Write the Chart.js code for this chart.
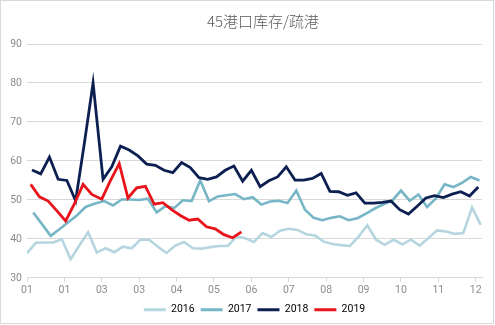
<!DOCTYPE html>
<html>
<head>
<meta charset="utf-8">
<script src="https://cdn.jsdelivr.net/npm/chart.js@4.4.1/dist/chart.umd.min.js"></script>
<style>
  html, body { margin: 0; padding: 0; background: #fff; }
  #wrap { width: 495px; height: 325px; position: relative; }
</style>
</head>
<body>
<div id="wrap"><canvas id="c" width="495" height="325"></canvas></div>
<script>
// Weekly (Friday) port inventory / outflow ratio, one series per year.
const years = ['2016', '2017', '2018', '2019'];
const firstFriday = ['2016-01-01', '2017-01-06', '2018-01-05', '2019-01-04'];
const colors = ['#b5d5df', '#76b6c6', '#0c1f50', '#e8141c'];
const titleText = '45港口库存/疏港';

const v2016 = [36.3, 39.0, 39.1, 39.1, 39.9, 34.8, 38.3, 41.7, 36.5, 37.6,
               36.6, 38.0, 37.6, 39.8, 39.8, 38.0, 36.4, 38.3, 39.2, 37.6,
               37.5, 37.9, 38.2, 38.2, 40.6, 40.2, 39.2, 41.5, 40.5, 42.1,
               42.6, 42.3, 41.2, 40.9, 39.3, 38.7, 38.4, 38.2, 40.6, 43.5,
               39.8, 38.5, 39.8, 38.6, 39.8, 38.3, 40.2, 42.2, 41.9, 41.3,
               41.5, 48.1, 43.6];
const v2017 = [46.8, 43.8, 40.8, 42.5, 44.3, 46.0, 48.2, 49.0, 49.7, 48.6,
               50.1, 50.1, 50.0, 50.3, 46.8, 48.4, 47.9, 49.9, 49.7, 55.0,
               49.7, 50.9, 51.2, 51.5, 50.2, 50.7, 48.8, 49.6, 49.8, 49.2,
               52.4, 47.5, 45.4, 44.8, 45.4, 45.8, 44.8, 45.3, 46.5, 47.8,
               48.9, 49.8, 52.4, 49.8, 51.4, 48.2, 50.4, 54.0, 53.3, 54.4,
               55.9, 55.0];
const v2018 = [57.7, 56.7, 61.0, 55.3, 55.0, 49.8, 64.5, 80.0, 55.3, 58.5,
               63.8, 62.8, 61.3, 59.2, 58.9, 57.6, 57.0, 59.6, 58.3, 55.7,
               55.3, 55.9, 57.6, 58.7, 54.8, 57.6, 53.4, 54.9, 55.9, 58.5,
               55.1, 55.1, 55.5, 56.8, 52.2, 52.1, 51.2, 51.8, 49.2, 49.2,
               49.4, 49.7, 47.5, 46.4, 48.4, 50.5, 51.1, 50.6, 51.5, 52.1,
               51.0, 53.3];
const v2019 = [54.0, 50.8, 49.7, 47.2, 44.6, 49.0, 54.0, 51.4, 50.2, 55.0,
               59.3, 50.5, 53.1, 53.5, 48.9, 49.3, 47.5, 46.0, 44.8, 45.1,
               43.1, 42.6, 41.1, 40.3, 41.8];

// x axis: day of a common (leap) calendar year, labelled every 30 days
const tickDays = [0, 30, 60, 90, 120, 150, 180, 210, 240, 270, 300, 330, 360];
const tickLabels = ['01', '01', '03', '03', '04', '05', '06', '07', '08', '09', '10', '11', '12'];

const seriesValues = [v2016, v2017, v2018, v2019];

// Place each weekly value on the shared month/day axis.
function dayOfCalendar(date) {
  return (Date.UTC(2016, date.getUTCMonth(), date.getUTCDate()) - Date.UTC(2016, 0, 1)) / 864e5;
}
function weeklyPoints(startIso, values) {
  const start = new Date(startIso + 'T00:00:00Z');
  return values.map((v, i) => {
    const d = new Date(start.getTime() + i * 7 * 864e5);
    return { x: dayOfCalendar(d), y: v };
  });
}

const datasets = years.map((yr, k) => ({
  label: yr,
  data: weeklyPoints(firstFriday[k], seriesValues[k]),
  borderColor: colors[k],
  backgroundColor: colors[k],
  borderWidth: k >= 2 ? 2.8 : 2.6,
  pointRadius: 0,
  tension: 0,
  fill: false,
  order: 4 - k
}));

const tickFont = { family: 'Roboto, "Noto Sans", sans-serif', size: 10.5 };
const gray = '#8c8c8c';

// White background, light outer frame and the chart heading.
const frame = {
  id: 'frame',
  beforeDraw(chart) {
    const c = chart.ctx;
    c.save();
    c.fillStyle = '#ffffff';
    c.fillRect(0, 0, chart.width, chart.height);
    c.strokeStyle = '#d9d9d9';
    c.lineWidth = 1;
    c.strokeRect(0.5, 0.5, chart.width - 2, chart.height - 2);
    c.restore();
  },
  afterDraw(chart) {
    const c = chart.ctx;
    c.save();
    c.fillStyle = '#595959';
    c.font = '300 15px "Noto Sans CJK SC", sans-serif';
    c.textAlign = 'center';
    c.textBaseline = 'middle';
    c.fillText(titleText, 263, 21);
    c.restore();
  }
};

new Chart(document.getElementById('c'), {
  type: 'line',
  data: { datasets },
  plugins: [frame],
  options: {
    responsive: false,
    animation: false,
    devicePixelRatio: 1,
    layout: { padding: { top: 44, right: 13, bottom: 0, left: 0 } },
    plugins: {
      title: { display: false },
      legend: {
        position: 'bottom',
        fullSize: false,
        labels: {
          boxWidth: 22,
          boxHeight: 3,
          padding: 6,
          color: gray,
          font: tickFont,
          generateLabels: (chart) => chart.data.datasets.map((ds, i) => ({
            text: ds.label,
            fillStyle: ds.borderColor,
            strokeStyle: ds.borderColor,
            lineWidth: 0,
            datasetIndex: i,
            hidden: false
          }))
        }
      },
      tooltip: { enabled: false }
    },
    scales: {
      x: {
        type: 'linear',
        min: 0,
        max: 365,
        afterBuildTicks: (axis) => { axis.ticks = tickDays.map(v => ({ value: v })); },
        ticks: {
          autoSkip: false,
          maxRotation: 0,
          padding: 2,
          color: gray,
          font: tickFont,
          callback: (value, index) => tickLabels[index]
        },
        grid: { drawOnChartArea: false, drawTicks: true, tickLength: 4, color: '#d9d9d9' },
        border: { color: '#d9d9d9' }
      },
      y: {
        min: 30,
        max: 90,
        ticks: { stepSize: 10, padding: 5, color: gray, font: tickFont },
        grid: { color: '#d9d9d9', drawTicks: false },
        border: { display: false },
        afterFit: (axis) => { axis.width = 27; }
      }
    }
  }
});
</script>
</body>
</html>
